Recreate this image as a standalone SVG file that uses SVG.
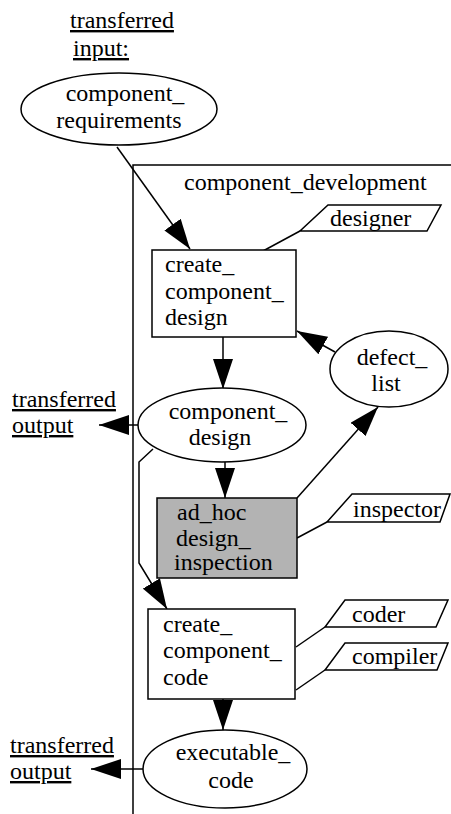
<svg xmlns="http://www.w3.org/2000/svg" width="451" height="814" viewBox="0 0 451 814">
<style>
text{font-family:"Liberation Serif","Times New Roman",serif;font-size:24px;fill:#000}
.m{text-anchor:middle}
.u{text-decoration:underline}
.s{fill:none;stroke:#000;stroke-width:1.5}
.w{fill:#fff;stroke:#000;stroke-width:1.5}
.g{fill:#b3b3b3;stroke:#000;stroke-width:1.5}
.e{fill:none;stroke:#000;stroke-width:1.5;marker-end:url(#ah)}
</style>
<defs>
<marker id="ah" markerUnits="userSpaceOnUse" markerWidth="31" markerHeight="20" refX="30" refY="10" orient="auto">
<path d="M0,0 L30,10 L0,20 z" fill="#000"/>
</marker>
</defs>
<rect width="451" height="814" fill="#fff"/>
<g id="container">
<path class="s" d="M133,814 L133,165 L451,165"/>
<text x="184" y="190">component_development</text>
</g>
<g id="input_label">
<text x="70" y="28" class="u">transferred</text>
<text x="73" y="56" class="u">input:</text>
</g>
<g id="output_label1">
<text x="12" y="407" class="u">transferred</text>
<text x="12" y="433" class="u">output</text>
</g>
<g id="output_label2">
<text x="10" y="753" class="u">transferred</text>
<text x="10" y="779" class="u">output</text>
</g>
<g id="connectors">
<line class="e" x1="117" y1="147" x2="190" y2="249"/>
<line class="s" x1="300" y1="231" x2="263" y2="251"/>
<line class="e" x1="223" y1="337" x2="223" y2="389"/>
<line class="e" x1="335" y1="352" x2="297" y2="331"/>
<line class="e" x1="138" y1="425" x2="99" y2="425"/>
<line class="e" x1="225" y1="462" x2="225" y2="498"/>
<line class="e" x1="297" y1="498" x2="378" y2="407"/>
<line class="s" x1="327" y1="522" x2="297" y2="538"/>
<polyline class="e" points="153,449 139,462 139,563 167,609"/>
<line class="s" x1="325" y1="627" x2="296" y2="647"/>
<line class="s" x1="325" y1="670" x2="296" y2="690"/>
<line class="e" x1="223" y1="699" x2="223" y2="730"/>
<line class="e" x1="143" y1="769" x2="91" y2="769"/>
</g>
<g id="component_requirements">
<ellipse class="w" cx="119" cy="109" rx="98" ry="36"/>
<text x="125" y="101" class="m">component_</text>
<text x="119" y="128" class="m">requirements</text>
</g>
<g id="designer">
<polygon class="w" points="328,205 441,205 427,231 300,231"/>
<text x="330" y="226">designer</text>
</g>
<g id="create_component_design">
<rect class="w" x="152" y="250" width="144" height="87"/>
<text x="165" y="272">create_</text>
<text x="165" y="299">component_</text>
<text x="165" y="325">design</text>
</g>
<g id="defect_list">
<ellipse class="w" cx="389" cy="369" rx="59" ry="38"/>
<text x="392" y="365" class="m">defect_</text>
<text x="386" y="391" class="m">list</text>
</g>
<g id="component_design">
<ellipse class="w" cx="222" cy="425" rx="84" ry="37"/>
<text x="228" y="419" class="m">component_</text>
<text x="220" y="445" class="m">design</text>
</g>
<g id="ad_hoc_design_inspection">
<rect class="g" x="157" y="498" width="140" height="80"/>
<text x="177" y="520">ad_hoc</text>
<text x="176" y="546">design_</text>
<text x="174" y="570">inspection</text>
</g>
<g id="inspector">
<polygon class="w" points="352,494 450,494 440,522 327,522"/>
<text x="353" y="517">inspector</text>
</g>
<g id="create_component_code">
<rect class="w" x="148" y="609" width="147" height="90"/>
<text x="163" y="632">create_</text>
<text x="163" y="658">component_</text>
<text x="163" y="685">code</text>
</g>
<g id="coder">
<polygon class="w" points="345,600 448,600 436,627 325,627"/>
<text x="352" y="622">coder</text>
</g>
<g id="compiler">
<polygon class="w" points="345,643 448,643 437,670 325,670"/>
<text x="352" y="664">compiler</text>
</g>
<g id="executable_code">
<ellipse class="w" cx="225" cy="769" rx="82" ry="39"/>
<text x="233" y="760" class="m">executable_</text>
<text x="231" y="788" class="m">code</text>
</g>
</svg>
